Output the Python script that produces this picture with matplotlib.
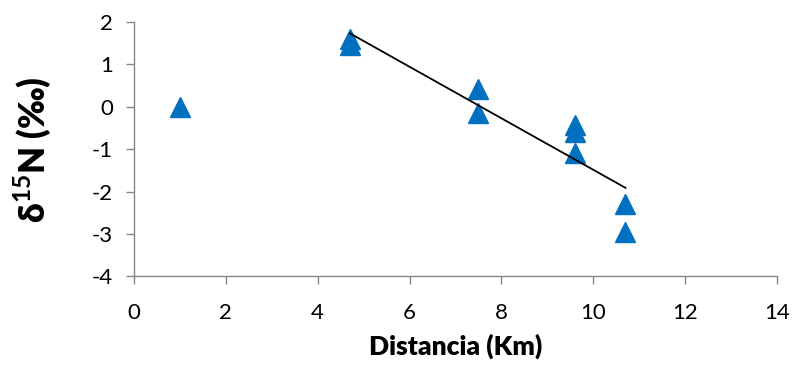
import matplotlib
matplotlib.use("Agg")
import matplotlib.pyplot as plt
import numpy as np

# Distancia (Km) y valores de delta 15N (‰)
distancia = [1.0, 4.7, 4.7, 7.5, 7.5, 9.6, 9.6, 9.6, 10.7, 10.7]
d15n = [0.0, 1.6, 1.46, 0.42, -0.14, -0.42, -0.6, -1.08, -2.29, -2.96]

x_ticks = [0, 2, 4, 6, 8, 10, 12, 14]
y_ticks = [-4, -3, -2, -1, 0, 1, 2]

plt.rcParams["font.family"] = ["Lato", "DejaVu Sans"]
plt.rcParams["axes.unicode_minus"] = False
plt.rcParams["mathtext.fontset"] = "custom"
plt.rcParams["mathtext.rm"] = "Lato"
plt.rcParams["mathtext.bf"] = "Lato:bold"

fig = plt.figure(figsize=(7.97, 3.68), dpi=100)
ax = fig.add_axes([0.168, 0.249, 0.807, 0.691])

ax.plot(distancia, d15n, linestyle="none", marker="^", markersize=14,
        color="#0070C0", zorder=3)

# Tendencia lineal (sin el punto de 1 km)
xs = np.array(distancia[1:])
ys = np.array(d15n[1:])
m, b = np.polyfit(xs, ys, 1)
xl = np.array([xs.min(), xs.max()])
ax.plot(xl, m * xl + b, color="black", linewidth=1.3, zorder=4)

ax.set_xlim(0, 14)
ax.set_ylim(-4, 2)
ax.set_xticks(x_ticks)
ax.set_yticks(y_ticks)
ax.tick_params(direction="out", length=6, width=1, color="#868686",
               labelsize=16)
ax.tick_params(axis="x", pad=13)
ax.tick_params(axis="y", pad=9)

for lado in ["top", "right"]:
    ax.spines[lado].set_visible(False)
for lado in ["left", "bottom"]:
    ax.spines[lado].set_color("#868686")
    ax.spines[lado].set_linewidth(1)

ax.set_xlabel("Distancia (Km)", fontsize=19, fontweight="heavy", labelpad=8)
ax.set_ylabel(r"δ$^{\mathbf{15}}$N (‰)", fontsize=25,
              fontweight="heavy", labelpad=28)

plt.savefig("out.png", dpi=100)
